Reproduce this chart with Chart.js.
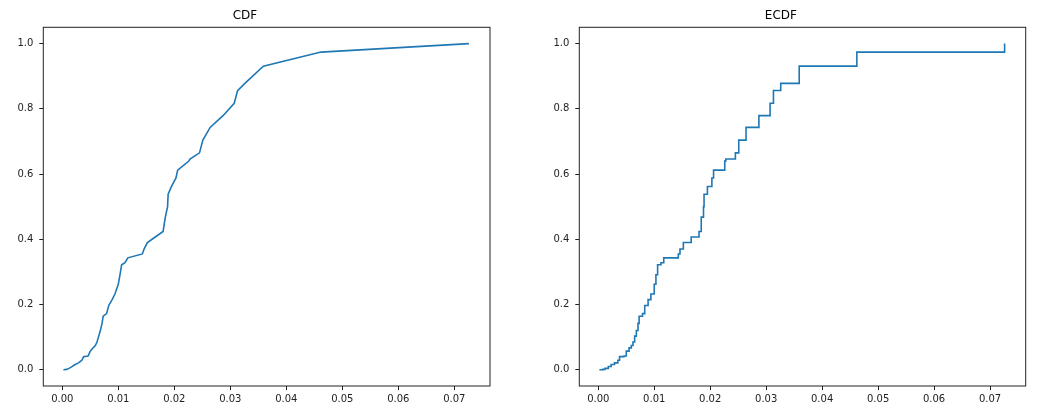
<!DOCTYPE html>
<html>
<head>
<meta charset="utf-8">
<script src="https://cdn.jsdelivr.net/npm/chart.js@4.4.0/dist/chart.umd.min.js"></script>
<style>
  html, body { margin: 0; padding: 0; background: #fff; overflow: hidden; }
  #wrap { position: relative; width: 1049px; height: 418px; }
  canvas { position: absolute; top: 0; }
</style>
</head>
<body>
<div id="wrap">
  <canvas id="cdfChart" width="524" height="418" style="left:0px"></canvas>
  <canvas id="ecdfChart" width="513" height="418" style="left:536px"></canvas>
</div>
<script>
// sorted sample values and their cumulative probability
const xs = [0.0002, 0.0008, 0.0012, 0.0018, 0.0023, 0.0029, 0.0035, 0.0038, 0.0046, 0.0050,
            0.0055, 0.0059, 0.0062, 0.0065, 0.0068, 0.0071, 0.0073, 0.0079, 0.0083, 0.0089,
            0.0094, 0.0100, 0.0103, 0.0106, 0.0112, 0.0117, 0.0143, 0.0146, 0.0152, 0.0166,
            0.0180, 0.0184, 0.0188, 0.0189, 0.0195, 0.0203, 0.0206, 0.0226, 0.0228, 0.0245,
            0.0251, 0.0264, 0.0287, 0.0307, 0.0313, 0.0326, 0.0359, 0.0462, 0.0726];
const ys = [0.000, 0.001, 0.004, 0.010, 0.016, 0.021, 0.029, 0.040, 0.042, 0.057,
            0.067, 0.074, 0.085, 0.103, 0.120, 0.142, 0.164, 0.172, 0.197, 0.215,
            0.232, 0.262, 0.291, 0.322, 0.328, 0.343, 0.355, 0.370, 0.390, 0.407,
            0.424, 0.468, 0.500, 0.538, 0.562, 0.588, 0.612, 0.640, 0.646, 0.665,
            0.704, 0.743, 0.779, 0.817, 0.856, 0.878, 0.931, 0.974, 1.000];

const xTicks = [0, 0.01, 0.02, 0.03, 0.04, 0.05, 0.06, 0.07];
const yTicks = [0, 0.2, 0.4, 0.6, 0.8, 1.0];

const points = xs.map((x, i) => ({ x: x, y: ys[i] }));

// draw the full box around the plot area like matplotlib spines
const frame = {
  id: 'frame',
  afterDraw(chart) {
    const a = chart.chartArea;
    const c = chart.ctx;
    c.save();
    c.strokeStyle = '#222';
    c.lineWidth = 1;
    c.strokeRect(a.left, a.top, a.right - a.left, a.bottom - a.top);
    c.restore();
  }
};

function makeChart(id, title, stepped, padRight) {
  const ctx = document.getElementById(id).getContext('2d');
  return new Chart(ctx, {
    type: 'line',
    data: {
      datasets: [{
        data: points,
        borderColor: '#1f77b4',
        borderWidth: 1.6,
        pointRadius: 0,
        tension: 0,
        fill: false,
        stepped: stepped
      }]
    },
    options: {
      responsive: false,
      animation: false,
      events: [],
      layout: { padding: { left: 0, right: padRight, top: 0, bottom: 0 } },
      plugins: {
        legend: { display: false },
        tooltip: { enabled: false },
        title: {
          display: true,
          text: title,
          color: '#000',
          font: { family: 'DejaVu Sans', size: 12, weight: 'normal' },
          padding: { top: 9, bottom: 3.9 }
        }
      },
      scales: {
        x: {
          type: 'linear',
          min: -0.00339,
          max: 0.07637,
          afterBuildTicks: s => { s.ticks = xTicks.map(v => ({ value: v })); },
          afterFit: s => { s.height = 32; },
          grid: { drawOnChartArea: false, drawTicks: true, tickLength: 4, tickColor: '#222' },
          border: { display: false },
          ticks: {
            color: '#222',
            padding: 3,
            maxRotation: 0,
            autoSkip: false,
            font: { family: 'DejaVu Sans', size: 10 },
            callback: v => v.toFixed(2)
          }
        },
        y: {
          type: 'linear',
          min: -0.05,
          max: 1.05,
          afterBuildTicks: s => { s.ticks = yTicks.map(v => ({ value: v })); },
          afterFit: s => { s.width = 43.3; },
          grid: { drawOnChartArea: false, drawTicks: true, tickLength: 4, tickColor: '#222' },
          border: { display: false },
          ticks: {
            color: '#222',
            padding: 6,
            autoSkip: false,
            font: { family: 'DejaVu Sans', size: 10 },
            callback: v => v.toFixed(1)
          }
        }
      }
    },
    plugins: [frame]
  });
}

makeChart('cdfChart', 'CDF', false, 34);
makeChart('ecdfChart', 'ECDF', true, 23.3);
</script>
</body>
</html>
